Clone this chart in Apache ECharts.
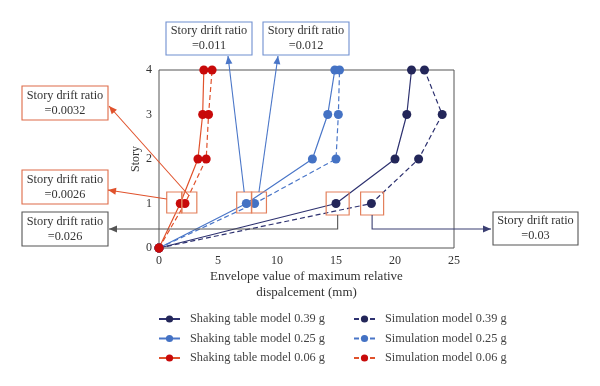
<!DOCTYPE html>
<html><head><meta charset="utf-8">
<script src="https://cdn.jsdelivr.net/npm/echarts@6/dist/echarts.min.js"></script>
<style>html,body{margin:0;padding:0;background:#fff}#c{width:600px;height:386px}</style>
</head><body><div id="c"></div>
<script>
// ---- data ----
var stories = [0, 1, 2, 3, 4];
var shaking039 = [0, 15.0, 20.0, 21.0, 21.4];
var sim039     = [0, 18.0, 22.0, 24.0, 22.5];
var shaking025 = [0, 7.4, 13.0, 14.3, 14.9];
var sim025     = [0, 8.1, 15.0, 15.2, 15.3];
var shaking006 = [0, 1.8, 3.3, 3.7, 3.8];
var sim006     = [0, 2.2, 4.0, 4.2, 4.5];
var seriesNames = ['Shaking table model 0.39 g','Simulation model 0.39 g','Shaking table model 0.25 g','Simulation model 0.25 g','Shaking table model 0.06 g','Simulation model 0.06 g'];
var xTicks = [0, 5, 10, 15, 20, 25];
var yTicks = [0, 1, 2, 3, 4];
// annotation box centres at story 1 (data units) and ratio labels
var boxCentersX = [1.29, 2.57, 7.22, 8.47, 15.14, 18.06];
var ratioLabels = ['=0.0032', '=0.0026', '=0.011', '=0.012', '=0.026', '=0.03'];

var FONT = 'Liberation Serif';
var NAVY = '#232659', BLUE = '#4472c4', RED = '#c80a0a';
var REDLINE = '#e0522c';

function pairs(xs){ return xs.map(function(v,i){ return [v, stories[i]]; }); }
function mk(name, xs, mColor, lColor, dashed){
  return {
    name: name, type: 'line', data: pairs(xs), symbol: 'circle', symbolSize: 9,
    itemStyle: {color: mColor},
    lineStyle: {color: lColor, width: 1.2, type: dashed ? [5,3] : 'solid'},
    emphasis: {disabled: true}, animation: false
  };
}

var chart = echarts.init(document.getElementById('c'), null, {renderer: 'canvas'});
var legendText = {fontFamily: FONT, fontSize: 12.3, color: '#444', padding: [0,0,0,5]};
var option = {
  animation: false,
  grid: {left: 159, right: 146, top: 70, bottom: 138, show: true, borderColor: '#555', borderWidth: 1},
  xAxis: {
    type: 'value', min: 0, max: 25, interval: 5,
    axisLine: {show: false}, axisTick: {show: false}, splitLine: {show: false},
    axisLabel: {fontFamily: FONT, fontSize: 12, color: '#333', margin: 7},
    name: 'Envelope value of maximum relative\ndispalcement (mm)', nameLocation: 'middle', nameGap: 21,
    nameTextStyle: {fontFamily: FONT, fontSize: 13, color: '#333', lineHeight: 16, verticalAlign: 'top'}
  },
  yAxis: {
    type: 'value', min: 0, max: 4, interval: 1,
    axisLine: {show: false}, axisTick: {show: false}, splitLine: {show: false},
    axisLabel: {fontFamily: FONT, fontSize: 12, color: '#333', margin: 7},
    name: 'Story', nameLocation: 'middle', nameGap: 14, nameRotate: 90,
    nameTextStyle: {fontFamily: FONT, fontSize: 12, color: '#333'}
  },
  legend: [
    {data: [seriesNames[0], seriesNames[2], seriesNames[4]], orient: 'vertical', left: 153, top: 308,
     itemWidth: 21, itemHeight: 9, itemGap: 7.5, textStyle: legendText},
    {data: [seriesNames[1], seriesNames[3], seriesNames[5]], orient: 'vertical', left: 348, top: 308,
     itemWidth: 21, itemHeight: 9, itemGap: 7.5, textStyle: legendText}
  ],
  series: [
    mk(seriesNames[0], shaking039, NAVY, '#2e3270', false),
    mk(seriesNames[1], sim039, NAVY, '#2e3270', true),
    mk(seriesNames[2], shaking025, BLUE, '#4a76c8', false),
    mk(seriesNames[3], sim025, BLUE, '#4a76c8', true),
    mk(seriesNames[4], shaking006, RED, REDLINE, false),
    mk(seriesNames[5], sim006, RED, REDLINE, true)
  ]
};
chart.setOption(option);

// ---- annotations ----
function px(x, y){ return chart.convertToPixel({gridIndex: 0}, [x, y]); }
function arrowHead(x1, y1, x2, y2, color){
  var dx = x2 - x1, dy = y2 - y1, L = Math.sqrt(dx*dx + dy*dy);
  var ux = dx / L, uy = dy / L, hl = 8, hw = 3.5;
  var bx = x2 - ux*hl, by = y2 - uy*hl;
  return {type: 'polygon', z: 20, shape: {points: [[x2, y2], [bx - uy*hw, by + ux*hw], [bx + uy*hw, by - ux*hw]]},
          style: {fill: color}};
}
function leader(pts, color){
  var n = pts.length;
  return [
    {type: 'polyline', z: 19, shape: {points: pts}, style: {stroke: color, lineWidth: 1.1, fill: null}},
    arrowHead(pts[n-2][0], pts[n-2][1], pts[n-1][0], pts[n-1][1], color)
  ];
}
function textBox(x, y, w, h, label, border){
  return {type: 'group', x: x, y: y, z: 30, children: [
    {type: 'rect', shape: {x: 0, y: 0, width: w, height: h}, style: {fill: '#fff', stroke: border, lineWidth: 1.1}},
    {type: 'text', x: w/2, y: h/2, style: {text: 'Story drift ratio\n' + label, fontFamily: FONT, fontSize: 12.3,
      lineHeight: 15, fill: '#333', align: 'center', verticalAlign: 'middle'}}
  ]};
}
var g = [];
var widths = [15, 15, 15, 15, 23, 23];
var heights = [21, 21, 21, 21, 23, 23];
var rectsPx = boxCentersX.map(function(cx, i){
  var p = px(cx, 1);
  var w = widths[i], h = heights[i];
  var r = {x: p[0] - w/2, y: p[1] - 11.5, w: w, h: h, cx: p[0]};
  g.push({type: 'rect', z: 18, shape: {x: r.x, y: r.y, width: w, height: h},
          style: {fill: null, stroke: '#e3805c', lineWidth: 1.2}});
  return r;
});
var gridBottom = px(0, 0)[1];
var yRun = gridBottom - 19;
// red leaders
g = g.concat(leader([[rectsPx[1].cx, rectsPx[1].y + 4], [109, 106]], REDLINE));
g = g.concat(leader([[rectsPx[0].x, rectsPx[0].y + 7], [108, 190]], REDLINE));
// blue leaders
g = g.concat(leader([[rectsPx[2].cx, rectsPx[2].y], [228, 56]], '#4a76c8'));
g = g.concat(leader([[rectsPx[3].cx, rectsPx[3].y], [278, 56]], '#4a76c8'));
// navy leaders
g = g.concat(leader([[rectsPx[4].cx, rectsPx[4].y + rectsPx[4].h], [rectsPx[4].cx, yRun], [109, yRun]], '#555'));
g = g.concat(leader([[rectsPx[5].cx, rectsPx[5].y + rectsPx[5].h], [rectsPx[5].cx, yRun], [491, yRun]], '#3b3f72'));
// text boxes
g.push(textBox(22, 86, 86, 34, ratioLabels[0], '#de6b48'));
g.push(textBox(22, 170, 86, 34, ratioLabels[1], '#de6b48'));
g.push(textBox(166, 22, 86, 33, ratioLabels[2], '#6f8fd0'));
g.push(textBox(263, 22, 86, 33, ratioLabels[3], '#6f8fd0'));
g.push(textBox(22, 212, 86, 34, ratioLabels[4], '#555'));
g.push(textBox(493, 212, 85, 33, ratioLabels[5], '#555'));
chart.setOption({graphic: g});
</script></body></html>
